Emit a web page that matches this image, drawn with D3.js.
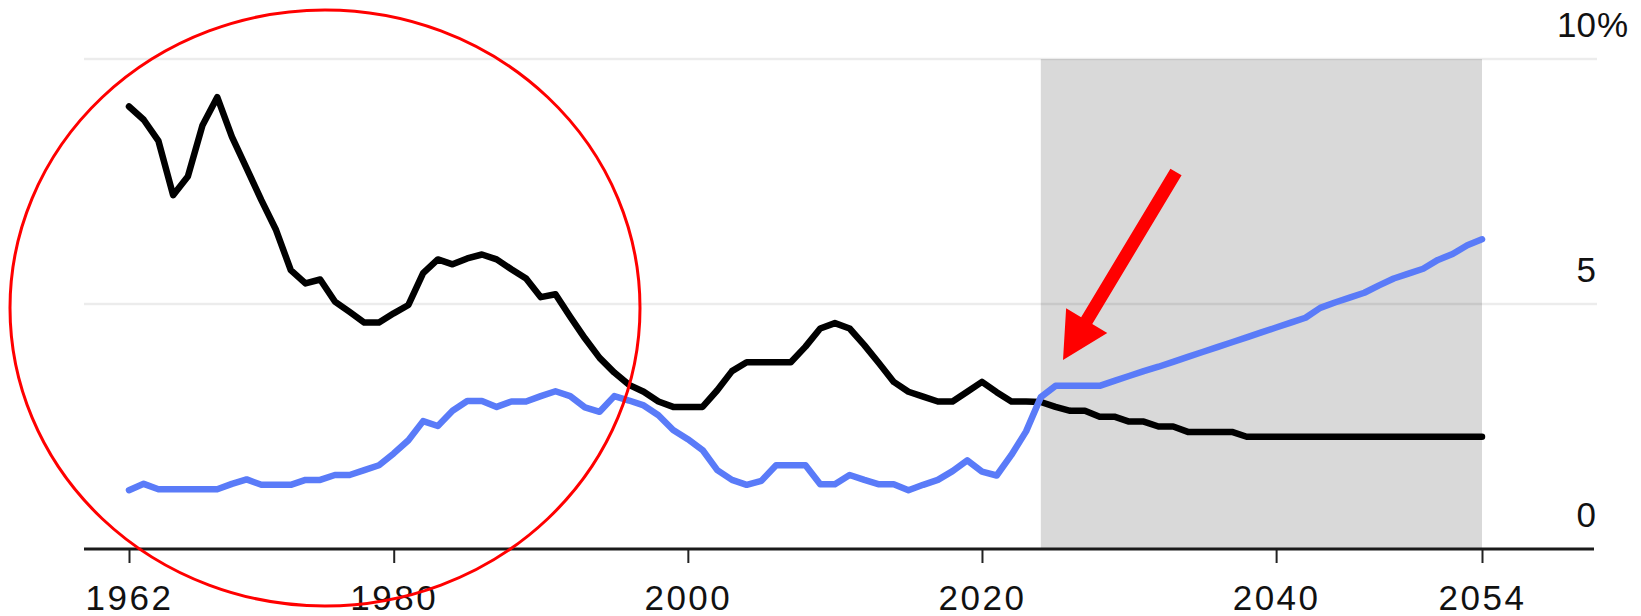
<!DOCTYPE html>
<html>
<head>
<meta charset="utf-8">
<script src="https://cdn.jsdelivr.net/npm/d3@7"></script>
<style>
  html, body { margin: 0; padding: 0; background: #fff; }
  svg { display: block; }
  text { font-family: "Liberation Sans", Arial, Helvetica, sans-serif; fill: #111; }
</style>
</head>
<body>
<svg id="chart" width="1641" height="616"></svg>
<script>
// Annual series, 1962–2054 (percent)
const years = d3.range(1962, 2055);

const blackSeries = [
  9.03, 8.76, 8.33, 7.22, 7.60, 8.65, 9.22, 8.41, 7.77, 7.12,   // 1962-1971
  6.51, 5.69, 5.42, 5.50, 5.05, 4.84, 4.62, 4.62, 4.81, 4.98,   // 1972-1981
  5.63, 5.91, 5.81, 5.93, 6.01, 5.91, 5.71, 5.52, 5.14, 5.20,   // 1982-1991
  4.74, 4.30, 3.90, 3.60, 3.35, 3.21, 3.01, 2.90, 2.90, 2.90,   // 1992-2001
  3.24, 3.63, 3.81, 3.81, 3.81, 3.81, 4.13, 4.50, 4.61, 4.50,   // 2002-2011
  4.16, 3.79, 3.41, 3.21, 3.11, 3.01, 3.01, 3.21, 3.41, 3.20,   // 2012-2021
  3.01, 3.01, 3.00, 2.90, 2.82, 2.82, 2.70, 2.70, 2.60, 2.60,   // 2022-2031
  2.50, 2.50, 2.39, 2.39, 2.39, 2.39, 2.29, 2.29, 2.29, 2.29,   // 2032-2041
  2.29, 2.29, 2.29, 2.29, 2.29, 2.29, 2.29, 2.29, 2.29, 2.29,   // 2042-2051
  2.29, 2.29, 2.29                                              // 2052-2054
];

const blueSeries = [
  1.20, 1.33, 1.22, 1.22, 1.22, 1.22, 1.22, 1.33, 1.42, 1.31,   // 1962-1971
  1.31, 1.31, 1.41, 1.41, 1.51, 1.51, 1.61, 1.71, 1.95, 2.22,   // 1972-1981
  2.61, 2.51, 2.82, 3.02, 3.02, 2.90, 3.01, 3.01, 3.12, 3.22,   // 1982-1991
  3.12, 2.89, 2.80, 3.12, 3.03, 2.93, 2.73, 2.43, 2.24, 2.02,   // 1992-2001
  1.61, 1.41, 1.31, 1.39, 1.71, 1.71, 1.71, 1.32, 1.32, 1.51,   // 2002-2011
  1.41, 1.32, 1.32, 1.20, 1.31, 1.41, 1.59, 1.81, 1.58, 1.50,   // 2012-2021
  1.92, 2.40, 3.10, 3.33, 3.33, 3.33, 3.33, 3.43, 3.53, 3.63,   // 2022-2031
  3.72, 3.82, 3.92, 4.02, 4.12, 4.22, 4.32, 4.42, 4.52, 4.62,   // 2032-2041
  4.72, 4.92, 5.03, 5.13, 5.23, 5.38, 5.52, 5.62, 5.72, 5.90,   // 2042-2051
  6.02, 6.20, 6.32                                              // 2052-2054
];

const xTickYears = [1962, 1980, 2000, 2020, 2040, 2054];
const yTicks = [0, 5, 10];
const projectionSpan = [2024, 2054];

// Layout
const svg = d3.select("#chart");
const plotLeft = 84, plotRight = 1597, axisRight = 1594;

const x = d3.scaleLinear().domain([1962, 2054]).range([129, 1482]);
const y = d3.scaleLinear().domain([0, 10]).range([549, 59]);

// Projection band
svg.append("rect")
  .attr("x", x(projectionSpan[0]))
  .attr("y", y(10))
  .attr("width", x(projectionSpan[1]) - x(projectionSpan[0]))
  .attr("height", y(0) - y(10))
  .attr("fill", "#d9d9d9");

// Horizontal gridlines
svg.append("g").selectAll("line")
  .data(yTicks.filter(d => d > 0))
  .join("line")
  .attr("x1", plotLeft).attr("x2", plotRight)
  .attr("y1", d => y(d)).attr("y2", d => y(d))
  .attr("stroke", "rgba(0,0,0,0.075)")
  .attr("stroke-width", 2.5);

// Right-hand value labels
const yLab = svg.append("g").attr("font-size", 35);
yLab.selectAll("text.num")
  .data(yTicks)
  .join("text")
  .attr("class", "num")
  .attr("x", 1596)
  .attr("y", d => y(d) - 22.5)
  .attr("text-anchor", "end")
  .text(d => d);
yLab.append("text")
  .attr("x", 1597)
  .attr("y", y(d3.max(yTicks)) - 22.5)
  .attr("text-anchor", "start")
  .text("%");

// X axis
const xAxis = d3.axisBottom(x)
  .tickValues(xTickYears)
  .tickFormat(d3.format("d"))
  .tickSize(14)
  .tickSizeOuter(0)
  .tickPadding(22);

const gx = svg.append("g")
  .attr("transform", `translate(0,${y(0)})`)
  .call(xAxis);
gx.select(".domain").remove();
gx.selectAll(".tick line").attr("stroke", "#222").attr("stroke-width", 2);
gx.selectAll(".tick text")
  .attr("font-size", 35)
  .attr("font-family", "'Liberation Sans', Arial, sans-serif")
  .attr("letter-spacing", 2.5)
  .attr("fill", "#111");

svg.append("line")
  .attr("x1", plotLeft).attr("x2", axisRight)
  .attr("y1", y(0)).attr("y2", y(0))
  .attr("stroke", "#1a1a1a")
  .attr("stroke-width", 3);

// Series lines
const line = d3.line()
  .x((d, i) => x(years[i]))
  .y(d => y(d));

svg.append("path")
  .datum(blackSeries)
  .attr("d", line)
  .attr("fill", "none")
  .attr("stroke", "#000")
  .attr("stroke-width", 6.5)
  .attr("stroke-linejoin", "round")
  .attr("stroke-linecap", "round");

svg.append("path")
  .datum(blueSeries)
  .attr("d", line)
  .attr("fill", "none")
  .attr("stroke", "#5a7bf8")
  .attr("stroke-width", 6.5)
  .attr("stroke-linejoin", "round")
  .attr("stroke-linecap", "round");

// Red annotations: ring around the early decades, arrow at the crossover
svg.append("ellipse")
  .attr("cx", 325).attr("cy", 308)
  .attr("rx", 315).attr("ry", 298)
  .attr("fill", "none")
  .attr("stroke", "#ff0000")
  .attr("stroke-width", 3);

function arrowPath(tail, tip, shaftW, headL, headW) {
  const dx = tip[0] - tail[0], dy = tip[1] - tail[1];
  const len = Math.hypot(dx, dy);
  const ux = dx / len, uy = dy / len;
  const nx = -uy, ny = ux;
  const bx = tip[0] - ux * headL, by = tip[1] - uy * headL;
  const s = shaftW / 2, h = headW / 2;
  const pts = [
    [tail[0] + nx * s, tail[1] + ny * s],
    [bx + nx * s, by + ny * s],
    [bx + nx * h, by + ny * h],
    tip,
    [bx - nx * h, by - ny * h],
    [bx - nx * s, by - ny * s],
    [tail[0] - nx * s, tail[1] - ny * s]
  ];
  return "M" + pts.map(p => p.join(",")).join("L") + "Z";
}

svg.append("path")
  .attr("d", arrowPath([1176, 172], [1063, 360], 13, 46, 48))
  .attr("fill", "#ff0000");
</script>
</body>
</html>
